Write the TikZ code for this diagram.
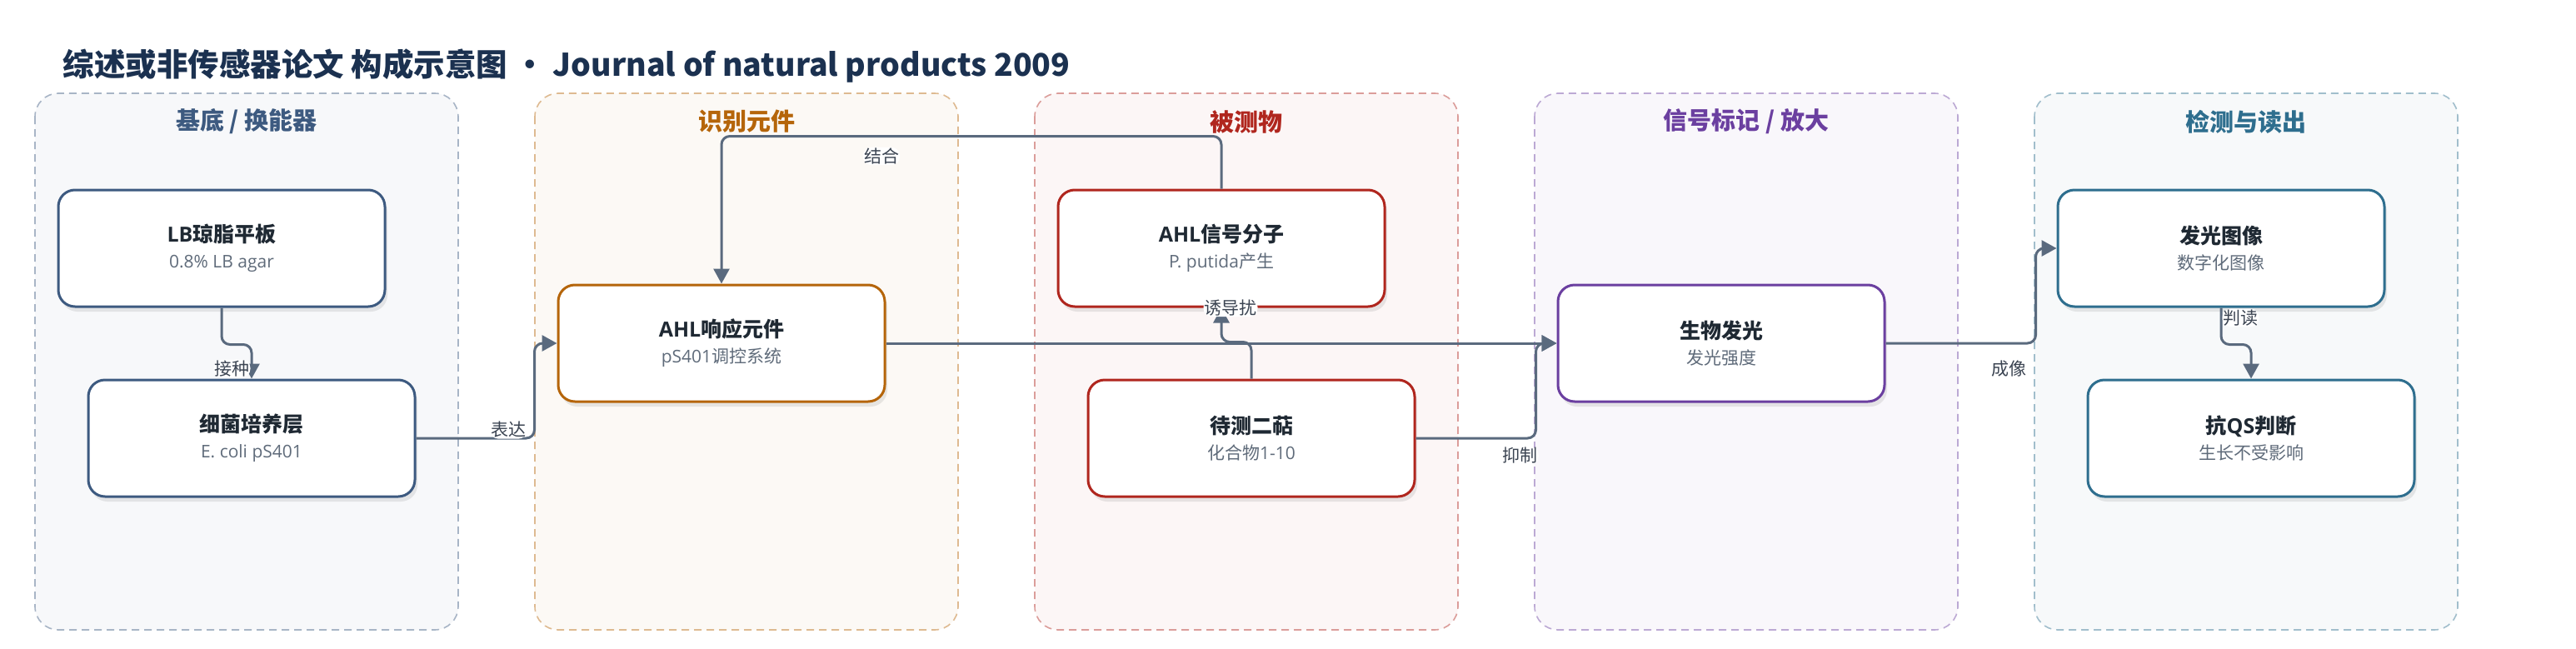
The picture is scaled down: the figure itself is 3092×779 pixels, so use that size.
\documentclass[tikz,border=0pt]{standalone}
\usepackage{fontspec}
\setmainfont{Noto Sans CJK SC}
\newfontfamily\latn{Open Sans}
\usepackage{xcolor}
\usetikzlibrary{arrows.meta,shadows}

\definecolor{cSub}{HTML}{3D5A80}
\definecolor{cRec}{HTML}{B5650A}
\definecolor{cAna}{HTML}{B0261E}
\definecolor{cSig}{HTML}{6B3FA0}
\definecolor{cDet}{HTML}{2E6E8E}
\definecolor{cLine}{HTML}{5A6A7E}
\definecolor{cLab}{HTML}{3B4452}
\definecolor{cHead}{HTML}{1B3150}
\definecolor{cText}{HTML}{1F2933}
\definecolor{cGray}{HTML}{5F6B7A}

\newcommand{\bxhead}[1]{{\fontsize{25}{31}\selectfont\bfseries\color{cText}#1}}
\newcommand{\bxnote}[1]{{\fontsize{21}{31}\selectfont\color{cGray}#1}}

\begin{document}
\begin{tikzpicture}[x=1pt, y=-1pt,
    panel/.style={draw=#1!45, fill=#1!4, line width=1.6pt, dash pattern=on 9pt off 6pt, rounded corners=28pt},
    ptitle/.style={text=#1, font=\bfseries\fontsize{29}{34}\selectfont},
    box/.style={draw=#1, line width=3pt, fill=white, rounded corners=20pt, minimum width=392pt, minimum height=140pt, align=center, font=\fontsize{25}{31}\selectfont, drop shadow={shadow xshift=3pt, shadow yshift=-6pt, fill=black!60, opacity=0.14}},
    conn/.style={draw=cLine, line width=3pt, rounded corners=10pt, -{Triangle[length=18pt,width=19pt]}},
    lbl/.style={fill=white, inner sep=1pt, text=cLab, font=\fontsize{21}{24}\selectfont}]
  \fill[white] (0,0) rectangle (3092,779); % background
  \useasboundingbox (0,0) rectangle (3092,779);
  \node[anchor=west, text=cHead, font=\bfseries\fontsize{37.5}{42}\selectfont] (title) at (72,79)
    {综述或非传感器论文 构成示意图 • Journal of natural products 2009};

  % panels
  \draw[panel=cSub] (42,112) rectangle (550,756);
  \draw[panel=cRec] (642,112) rectangle (1150,756);
  \draw[panel=cAna] (1242,112) rectangle (1750,756);
  \draw[panel=cSig] (1842,112) rectangle (2350,756);
  \draw[panel=cDet] (2442,112) rectangle (2950,756);
  \node[ptitle=cSub] (tSub) at (296,146) {基底 / 换能器};
  \node[ptitle=cRec] (tRec) at (896,146) {识别元件};
  \node[ptitle=cAna] (tAna) at (1496,146) {被测物};
  \node[ptitle=cSig] (tSig) at (2096,146) {信号标记 / 放大};
  \node[ptitle=cDet] (tDet) at (2696,146) {检测与读出};

  % boxes
  \node[box=cSub] (LB) at (266,298) {\bxhead{{\latn LB}琼脂平板}\\\bxnote{\latn 0.8\% LB agar}};
  \node[box=cSub] (Ecoli) at (302,526) {\bxhead{细菌培养层}\\\bxnote{\latn E. coli pS401}};
  \node[box=cRec] (AHLr) at (866,412) {\bxhead{{\latn AHL}响应元件}\\\bxnote{{\latn pS401}调控系统}};
  \node[box=cAna] (AHL) at (1466,298) {\bxhead{{\latn AHL}信号分子}\\\bxnote{{\latn P. putida}产生}};
  \node[box=cAna] (Dit) at (1502,526) {\bxhead{待测二萜}\\\bxnote{化合物{\latn 1-10}}};
  \node[box=cSig] (Lum) at (2066,412) {\bxhead{生物发光}\\\bxnote{发光强度}};
  \node[box=cDet] (Img) at (2666,298) {\bxhead{发光图像}\\\bxnote{数字化图像}};
  \node[box=cDet] (QS) at (2702,526) {\bxhead{抗{\latn QS}判断}\\\bxnote{生长不受影响}};

  % connectors
  \draw[conn] (LB.south) -- ++(0,44) -| node[lbl, pos=0.85, anchor=east] (lInoc) {接种} (Ecoli.north);
  \draw[conn] (Ecoli.east) -- node[lbl, pos=0.78, yshift=10pt] (lExpr) {表达} ++(142,0) |- (AHLr.west);
  \draw[conn] (AHL.north) -- ++(0,-63) -| node[lbl, pos=0.34, yshift=-24pt] (lBind) {结合} (AHLr.north);
  \draw[conn] (AHLr.east) -- (Lum.west);
  \draw[conn] (Dit.north) -- ++(0,-44) -| node[lbl, pos=1, xshift=11pt] (lInduce) {诱导扰} (AHL.south);
  \draw[conn] (Dit.east) -- node[lbl, pos=0.87, yshift=-21pt] (lInhib) {抑制} ++(144,0) |- (Lum.west);
  \draw[conn] (Lum.east) -- node[lbl, pos=0.82, yshift=-31pt] (lImage) {成像} ++(180,0) |- (Img.west);
  \draw[conn] (Img.south) -- node[lbl, pos=0.27, anchor=west] (lRead) {判读} ++(0,44) -| (QS.north);
\end{tikzpicture}
\end{document}
